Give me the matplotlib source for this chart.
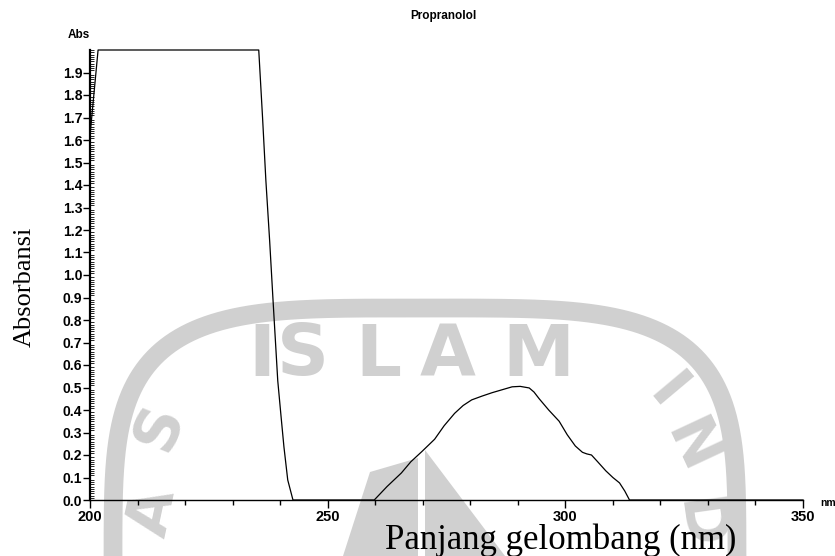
import numpy as np
import matplotlib
matplotlib.use("Agg")
import matplotlib.pyplot as plt
from matplotlib.ticker import MultipleLocator

# spectrum (wavelength nm, absorbance)
wavelength = [200.0, 201.7, 235.5, 236.3, 237.0, 237.8, 238.5, 239.5, 240.2, 240.8, 241.6, 242.7,
              259.8, 262.5, 265.5, 267.5, 269.8, 272.5, 274.5, 276.7, 278.5, 280.3, 282.5,
              284.6, 286.7, 288.8, 290.5, 292.4, 293.4, 294.5, 296.5, 298.7, 300.4,
              302.1, 303.6, 304.5, 305.5, 306.8, 308.5, 310.0, 311.4, 312.5, 313.5, 350.0]
absorbance = [1.62, 2.0, 2.0, 1.70, 1.42, 1.15, 0.89, 0.53, 0.37, 0.236, 0.089, 0.0,
              0.0, 0.06, 0.12, 0.17, 0.215, 0.27, 0.33, 0.385, 0.42, 0.445, 0.462,
              0.477, 0.49, 0.503, 0.505, 0.498, 0.48, 0.45, 0.40, 0.35, 0.29,
              0.24, 0.212, 0.205, 0.20, 0.17, 0.13, 0.10, 0.076, 0.04, 0.0, 0.0]

x_ticks = [200, 250, 300, 350]
y_ticks = [round(0.1 * i, 1) for i in range(20)]

W, H = 835, 556
fig = plt.figure(figsize=(W / 100, H / 100), dpi=100)

# --- faint watermark behind the chart (pixel coords) ---
gray = "#d0d0d0"
wm = fig.add_axes([0, 0, 1, 1], zorder=0)
wm.set_xlim(0, W)
wm.set_ylim(H, 0)
wm.axis("off")
t = np.linspace(0, 2 * np.pi, 400)
n = 4
cx, cy, a, b = 425, 570, 312, 262
ring_x = cx + a * np.sign(np.cos(t)) * np.abs(np.cos(t)) ** (2 / n)
ring_y = cy - b * np.sign(np.sin(t)) * np.abs(np.sin(t)) ** (2 / n)
wm.plot(ring_x, ring_y, color=gray, lw=13.5, solid_capstyle="butt")
for ch, px in zip("ISLAM", [262, 303, 378, 448, 538]):
    wm.text(px, 356, ch, fontsize=52, color=gray, ha="center", va="center",
            fontweight="bold", family="DejaVu Sans")
for ch, px, py, rot in [("S", 160, 427, 68), ("A", 153, 512, 78),
                        ("I", 666, 393, -50), ("N", 690, 447, -65), ("D", 697, 524, -82)]:
    wm.text(px, py, ch, fontsize=44, color=gray, ha="center", va="center",
            fontweight="bold", family="DejaVu Sans", rotation=rot)
wm.fill([425, 505, 425], [450, 556, 556], color=gray, lw=0)
wm.fill([418, 418, 343, 370], [458, 556, 556, 472], color=gray, lw=0)

# --- spectrum ---
ax = fig.add_axes([90 / W, 1 - 500 / H, (803 - 90) / W, 450 / H], zorder=1)
ax.patch.set_alpha(0)
ax.plot(wavelength, absorbance, color="black", lw=0.9, clip_on=False)

ax.set_xlim(200, 350)
ax.set_ylim(0, 2.0)
ax.spines["top"].set_visible(False)
ax.spines["right"].set_visible(False)
ax.spines["left"].set_linewidth(1.6)
ax.spines["bottom"].set_linewidth(1.0)

ax.set_xticks(x_ticks)
ax.set_xticklabels([str(v) for v in x_ticks])
ax.xaxis.set_minor_locator(MultipleLocator(10))
ax.set_yticks(y_ticks)
ax.set_yticklabels(["%.1f" % v for v in y_ticks])
ax.yaxis.set_minor_locator(MultipleLocator(0.01))

ax.tick_params(axis="x", which="major", direction="out", length=5.5, width=1.0, pad=1.5)
ax.tick_params(axis="x", which="minor", direction="out", length=3.5, width=1.0)
ax.tick_params(axis="y", which="major", direction="out", length=5, width=1.0, pad=0.5)
ax.tick_params(axis="y", which="minor", direction="in", length=3, width=0.6)

for lab in ax.get_xticklabels():
    lab.set_fontfamily("Liberation Sans")
    lab.set_fontweight("bold")
    lab.set_fontsize(10.5)
for lab in ax.get_yticklabels():
    lab.set_fontfamily("Liberation Sans")
    lab.set_fontweight("bold")
    lab.set_fontsize(10)

ax.text(0, 1.02, "Abs", transform=ax.transAxes, ha="right", va="bottom",
        fontsize=8.5, fontweight="bold", family="Liberation Sans")
fig.text(820 / W, 1 - 503 / H, "nm", ha="left", va="center",
         fontsize=7.5, fontweight="bold", family="Liberation Sans")
fig.text(443 / W, 1 - 16 / H, "Propranolol", ha="center", va="center",
         fontsize=8.5, fontweight="bold", family="Liberation Sans")

fig.text(561 / W, 1 - 549 / H, "Panjang gelombang (nm)", ha="center", va="baseline",
         fontsize=25, family="Liberation Serif")
fig.text(25 / W, 1 - 287 / H, "Absorbansi", ha="center", va="center", rotation=90,
         fontsize=19, family="Liberation Serif")

fig.savefig("out.png", dpi=100)
